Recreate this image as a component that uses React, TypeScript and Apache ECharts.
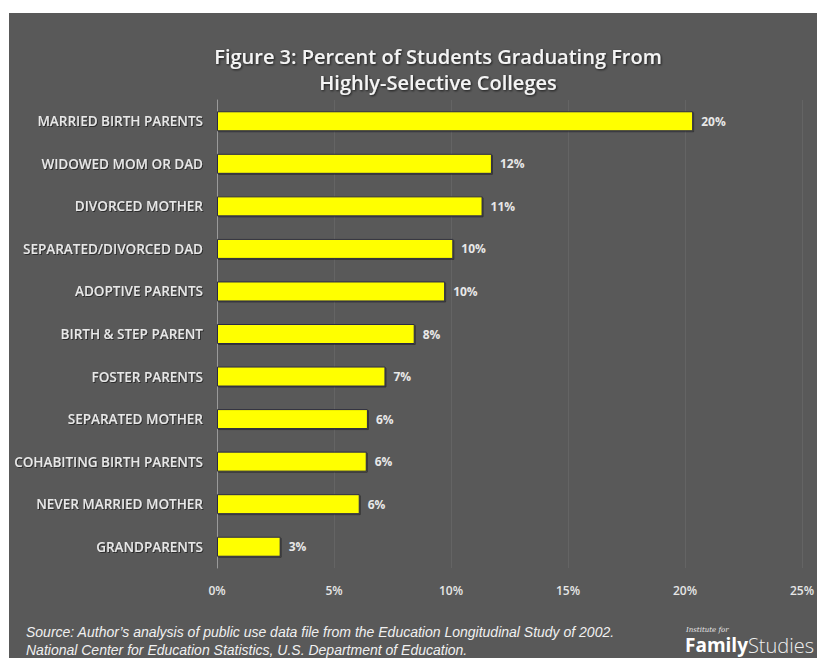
import React, { useEffect, useRef } from "react";
import * as echarts from "echarts";

const categories = [
  "MARRIED BIRTH PARENTS",
  "WIDOWED MOM OR DAD",
  "DIVORCED MOTHER",
  "SEPARATED/DIVORCED DAD",
  "ADOPTIVE PARENTS",
  "BIRTH & STEP PARENT",
  "FOSTER PARENTS",
  "SEPARATED MOTHER",
  "COHABITING BIRTH PARENTS",
  "NEVER MARRIED MOTHER",
  "GRANDPARENTS",
];
const values = [20.35, 11.75, 11.35, 10.1, 9.75, 8.45, 7.2, 6.45, 6.4, 6.1, 2.72];
const xTicks = [0, 5, 10, 15, 20, 25];

const titleLines = ["Figure 3: Percent of Students Graduating From", "Highly-Selective Colleges"];
const sourceLines = [
  "Source: Author\u2019s analysis of public use data file from the Education Longitudinal Study of 2002.",
  "National Center for Education Statistics, U.S. Department of Education.",
];

export default function App() {
  const ref = useRef<HTMLDivElement>(null);
  useEffect(() => {
    document.body.style.margin = "0";
    const chart = echarts.init(ref.current!, null, { renderer: "svg" });
    chart.setOption({
      animation: false,
      backgroundColor: "#ffffff",
      title: {
        text: titleLines.join("\n"),
        left: 433,
        textAlign: "center",
        top: 38,
        textStyle: {
          color: "#f4f4f4",
          fontFamily: "Open Sans",
          fontWeight: 600,
          fontSize: 20,
          lineHeight: 26,
          textShadowColor: "rgba(0,0,0,0.7)",
          textShadowBlur: 2,
          textShadowOffsetX: 1,
          textShadowOffsetY: 1,
        },
      },
      graphic: [
        {
          type: "rect",
          z: -10,
          shape: { x: 9, y: 13, width: 808, height: 645 },
          style: { fill: "#595959" },
          silent: true,
        },
        {
          type: "text",
          left: 26,
          top: 623,
          style: {
            text: sourceLines.join("\n"),
            fill: "#f0f0f0",
            font: "italic 14px 'Liberation Sans', Arial, sans-serif",
            lineHeight: 18,
          },
        },
        {
          type: "text",
          left: 686,
          top: 626,
          style: {
            text: "Institute for",
            fill: "#e8e8e8",
            font: "italic 7px 'DejaVu Serif', serif",
          },
        },
        {
          type: "text",
          left: 685,
          top: 635,
          style: {
            text: "{a|Family}{b|Studies}",
            rich: {
              a: { fill: "#ffffff", fontFamily: "Open Sans", fontWeight: "bold", fontSize: 19 },
              b: { fill: "#f0f0f0", fontFamily: "Open Sans", fontWeight: 300, fontSize: 20 },
            },
          },
        },
      ],
      grid: { left: 217, right: 14, top: 100, bottom: 90, containLabel: false },
      xAxis: {
        type: "value",
        min: 0,
        max: 25,
        interval: 5,
        axisLine: { show: false },
        axisTick: { show: false },
        splitLine: { lineStyle: { color: "#646464", width: 1 } },
        axisLabel: {
          color: "#e6e6e6",
          fontFamily: "Open Sans",
          fontWeight: 600,
          fontSize: 12,
          margin: 16,
          formatter: (v: number) => (xTicks.includes(v) ? v + "%" : ""),
        },
      },
      yAxis: {
        type: "category",
        data: categories,
        inverse: true,
        axisLine: { show: true, lineStyle: { color: "#9a9a9a", width: 1 } },
        axisTick: { show: false },
        axisLabel: {
          color: "#e8e8e8",
          fontFamily: "Open Sans",
          fontWeight: 600,
          fontSize: 13.5,
          margin: 14,
          textShadowColor: "rgba(0,0,0,0.5)",
          textShadowBlur: 1,
          textShadowOffsetX: 1,
          textShadowOffsetY: 1,
        },
      },
      series: [
        {
          type: "bar",
          data: values,
          barWidth: 20,
          itemStyle: {
            color: "#ffff00",
            borderColor: "#2b2b45",
            borderWidth: 1,
            shadowColor: "rgba(0,0,0,0.4)",
            shadowOffsetX: 1,
            shadowOffsetY: 1,
            shadowBlur: 1,
          },
          label: {
            show: true,
            position: "right",
            distance: 8,
            color: "#e8e8e8",
            fontFamily: "Open Sans",
            fontWeight: "bold",
            fontSize: 12,
            formatter: (p: any) => Math.round(p.value) + "%",
          },
        },
      ],
    });
    return () => chart.dispose();
  }, []);
  return <div ref={ref} style={{ width: 817, height: 658 }} />;
}
